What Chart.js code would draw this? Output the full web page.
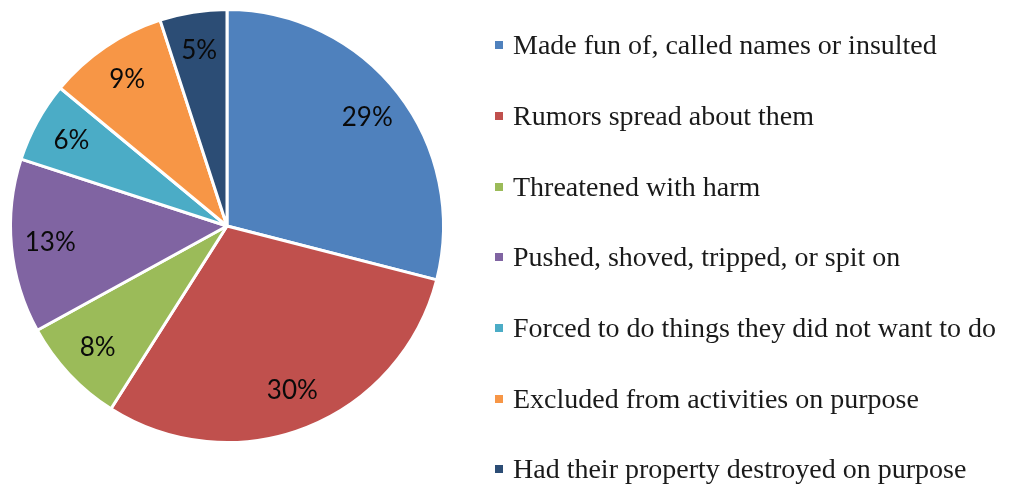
<!DOCTYPE html>
<html>
<head>
<meta charset="utf-8">
<script src="https://cdn.jsdelivr.net/npm/chart.js@4/dist/chart.umd.min.js"></script>
<style>
  html, body { margin: 0; padding: 0; background: #fff; }
  #wrap { position: relative; width: 1009px; height: 486px; }
  #legend {
    position: absolute; left: 495px; top: 10px; margin: 0; padding: 0;
    list-style: none; font-family: "Liberation Serif", serif; font-size: 28px; color: #1a1a1a;
  }
  #legend li { height: 70.67px; display: flex; align-items: center; white-space: nowrap; }
  #legend .box { width: 8px; height: 8px; margin-right: 10px; flex: none; }
</style>
</head>
<body>
<div id="wrap">
  <canvas id="pie" width="1009" height="486"></canvas>
  <ul id="legend"></ul>
</div>
<script>
const categories = [
  "Made fun of, called names or insulted",
  "Rumors spread about them",
  "Threatened with harm",
  "Pushed, shoved, tripped, or spit on",
  "Forced to do things they did not want to do",
  "Excluded from activities on purpose",
  "Had their property destroyed on purpose"
];
const percents = [29, 30, 8, 13, 6, 9, 5];
const colors = ["#4F81BD", "#C0504D", "#9BBB59", "#8064A2", "#4BACC6", "#F79646", "#2C4D75"];

// percentage labels inside the slices
const sliceLabels = {
  id: "sliceLabels",
  afterDatasetsDraw(chart) {
    const { ctx } = chart;
    const meta = chart.getDatasetMeta(0);
    ctx.save();
    ctx.font = "26px Lato, sans-serif";
    ctx.fillStyle = "#0a0a0a";
    ctx.textAlign = "center";
    ctx.textBaseline = "middle";
    meta.data.forEach((arc, i) => {
      const a = (arc.startAngle + arc.endAngle) / 2;
      const r = arc.outerRadius * 0.82;
      ctx.fillText(percents[i] + "%", arc.x + Math.cos(a) * r, arc.y + Math.sin(a) * r);
    });
    ctx.restore();
  }
};

new Chart(document.getElementById("pie"), {
  type: "pie",
  data: {
    labels: categories,
    datasets: [{
      data: percents,
      backgroundColor: colors,
      borderColor: "#fff",
      borderWidth: 3
    }]
  },
  options: {
    responsive: false,
    animation: false,
    layout: { padding: { left: 9, top: 8, right: 564, bottom: 42 } },
    plugins: { legend: { display: false }, tooltip: { enabled: false } }
  },
  plugins: [sliceLabels]
});

const ul = document.getElementById("legend");
categories.forEach((c, i) => {
  const li = document.createElement("li");
  li.innerHTML = '<span class="box" style="background:' + colors[i] + '"></span><span class="t">' + c + '</span>';
  ul.appendChild(li);
});
</script>
</body>
</html>
